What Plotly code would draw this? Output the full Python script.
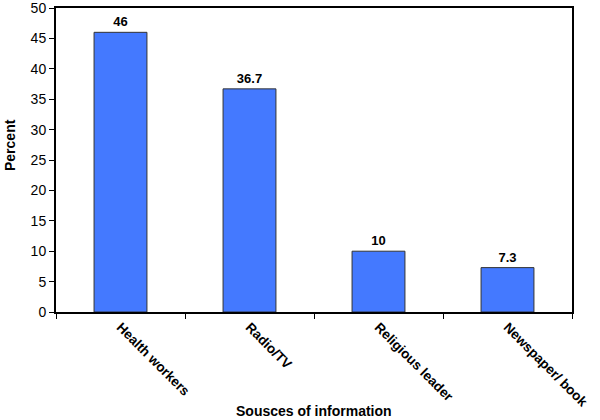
import plotly.graph_objects as go

categories = ["Health workers", "Radio/TV", "Religious leader", "Newspaper/ book"]
values = [46, 36.7, 10, 7.3]
value_labels = ["46", "36.7", "10", "7.3"]
y_ticks = [0, 5, 10, 15, 20, 25, 30, 35, 40, 45, 50]

font_family = "Liberation Sans, Arial, sans-serif"

fig = go.Figure(go.Bar(
    x=categories, y=values,
    text=value_labels, textposition="outside",
    texttemplate="<b>%{text}</b>",
    textfont=dict(family=font_family, size=13, color="black"),
    marker=dict(color="#4479FF", line=dict(color="#333333", width=1)),
    cliponaxis=False,
))

fig.update_layout(
    width=600, height=420,
    margin=dict(l=56, r=28, t=8, b=108, pad=0),
    paper_bgcolor="white", plot_bgcolor="white",
    bargap=0.59,
    showlegend=False,
    font=dict(family=font_family, size=12, color="black"),
    uniformtext=dict(minsize=13),
)

fig.update_xaxes(
    type="category", automargin=False,
    showline=True, linecolor="black", linewidth=2, mirror=True,
    ticks="outside", tickson="boundaries", ticklen=5, tickcolor="black", tickwidth=1,
    tickangle=45,
    tickprefix="<b>", ticksuffix="</b>",
    tickfont=dict(family=font_family, size=13.5, color="black"),
)
fig.update_yaxes(
    range=[0, 50.0001], tickmode="array", tickvals=y_ticks, automargin=False,
    ticklabeloverflow="allow",
    showline=True, linecolor="black", linewidth=2, mirror=True,
    ticks="outside", ticklen=5, tickcolor="black", tickwidth=1,
    showgrid=False, zeroline=False,
    tickprefix="<b>", ticksuffix="</b>",
    tickfont=dict(family=font_family, size=14, color="black"),
)

fig.add_annotation(text="<b>Sousces of information</b>", xref="paper", yref="paper",
                   x=0.5, y=0, yanchor="top", yshift=-89, showarrow=False,
                   font=dict(family=font_family, size=14, color="black"))
fig.add_annotation(text="<b>Percent</b>", xref="paper", yref="paper",
                   x=0, y=0.5, xanchor="center", xshift=-46, yshift=15, textangle=-90,
                   showarrow=False,
                   font=dict(family=font_family, size=14, color="black"))

fig.write_html("out.html", config={"displayModeBar": False},
               post_script="document.body.style.margin='0';")
